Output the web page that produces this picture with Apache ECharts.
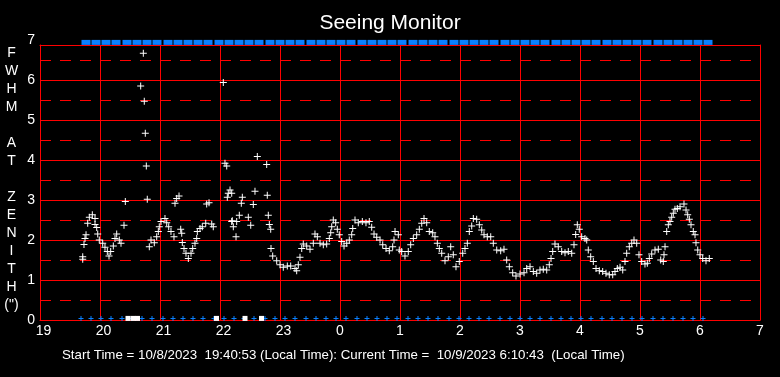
<!DOCTYPE html>
<html>
<head>
<meta charset="utf-8">
<script src="https://cdn.jsdelivr.net/npm/echarts@6.0.0/dist/echarts.min.js"></script>
<style>
  html, body { margin: 0; background: #000; }
  #chart { width: 780px; height: 377px; }
</style>
</head>
<body>
<div id="chart"></div>
<script>
// seeing samples: [hour since 19:00 of start day (24+ = next day), FWHM arcsec]
const seeing = [
  [19.712,1.58],[19.712,1.52],[19.733,1.89],[19.750,2.04],[19.767,2.13],[19.795,2.42],[19.822,2.57],[19.872,2.63],
  [19.917,2.54],[19.917,2.39],[19.945,2.31],[19.962,2.15],[19.988,2.00],[20.045,1.92],[20.083,1.82],[20.122,1.71],
  [20.150,1.60],[20.178,1.71],[20.222,1.85],[20.250,2.04],[20.278,2.15],[20.322,2.00],[20.350,1.92],[20.400,2.37],
  [20.422,2.96],[20.678,5.85],[20.722,6.67],[20.738,5.47],[20.755,4.67],[20.772,3.85],[20.788,3.02],
  [20.822,1.83],[20.850,2.00],[20.905,1.93],[20.945,2.08],[20.972,2.21],[20.988,2.33],[21.017,2.46],[21.083,2.54],
  [21.112,2.43],[21.145,2.33],[21.183,2.21],[21.233,2.08],[21.250,2.92],[21.278,3.04],[21.317,3.10],
  [21.345,2.27],[21.362,2.17],[21.372,1.94],[21.400,1.79],[21.433,1.67],[21.472,1.54],[21.517,1.67],[21.545,1.79],
  [21.583,1.92],[21.612,2.04],[21.622,2.21],[21.667,2.29],[21.705,2.33],[21.762,2.42],[21.778,2.90],[21.817,2.93],
  [21.862,2.40],[21.888,2.33],
  [22.055,5.94],[22.083,3.92],[22.112,3.85],[22.122,3.07],[22.138,3.17],[22.167,3.25],[22.195,3.17],[22.195,2.46],
  [22.205,2.48],[22.222,2.33],[22.267,2.08],[22.278,2.46],[22.322,2.62],[22.355,2.92],[22.372,3.07],[22.472,2.57],
  [22.512,2.37],[22.555,2.89],[22.583,3.22],[22.622,4.09],[22.778,3.89],[22.788,3.12],[22.805,2.62],[22.822,2.39],
  [22.845,2.27],[22.850,1.79],[22.878,1.60],[22.945,1.48],[23.000,1.38],[23.055,1.32],[23.122,1.35],[23.178,1.35],
  [23.250,1.29],[23.278,1.23],[23.305,1.38],[23.333,1.57],[23.362,1.79],[23.388,1.90],[23.445,1.85],[23.500,1.77],
  [23.555,1.92],[23.583,2.15],[23.622,2.08],[23.667,1.92],[23.722,1.88],[23.778,1.90],[23.822,2.04],[23.845,2.18],
  [23.862,2.33],[23.888,2.50],[23.928,2.43],[23.955,2.27],[23.988,2.13],
  [24.028,1.96],[24.067,1.85],[24.112,1.92],[24.155,2.00],[24.195,2.13],[24.212,2.29],[24.250,2.50],[24.305,2.43],
  [24.372,2.46],[24.433,2.43],[24.488,2.46],[24.528,2.32],[24.567,2.15],[24.612,2.07],[24.667,2.00],[24.712,1.88],
  [24.767,1.79],[24.822,1.73],[24.878,1.83],[24.900,2.00],[24.917,2.21],[24.972,2.13],[24.988,1.75],
  [25.028,1.71],[25.083,1.60],[25.138,1.71],[25.178,1.88],[25.222,2.04],[25.278,2.13],[25.322,2.27],[25.362,2.42],
  [25.400,2.54],[25.445,2.43],[25.488,2.21],[25.545,2.18],[25.583,2.08],[25.622,1.92],[25.655,1.79],[25.695,1.67],
  [25.750,1.48],[25.805,1.58],[25.845,1.83],[25.888,1.63],[25.933,1.33],[25.988,1.46],
  [26.045,1.67],[26.083,1.79],[26.122,1.92],[26.155,2.21],[26.195,2.35],[26.222,2.54],[26.278,2.52],[26.322,2.38],
  [26.362,2.25],[26.400,2.13],[26.455,2.08],[26.512,2.08],[26.555,1.92],[26.612,1.75],[26.678,1.73],[26.733,1.77],
  [26.778,1.50],[26.822,1.33],[26.878,1.18],[26.933,1.10],
  [27.000,1.15],[27.067,1.18],[27.112,1.29],[27.167,1.33],[27.222,1.21],[27.278,1.17],[27.333,1.25],[27.388,1.27],
  [27.445,1.25],[27.488,1.38],[27.517,1.54],[27.545,1.71],[27.583,1.90],[27.638,1.83],[27.695,1.71],[27.750,1.68],
  [27.805,1.71],[27.862,1.67],[27.900,1.88],[27.928,2.14],[27.955,2.38],[27.988,2.27],
  [28.028,2.08],[28.083,2.04],[28.112,2.00],[28.138,1.75],[28.178,1.58],[28.222,1.46],[28.267,1.29],[28.322,1.23],
  [28.378,1.21],[28.433,1.17],[28.488,1.13],[28.545,1.13],[28.583,1.21],[28.622,1.29],[28.667,1.32],[28.712,1.25],
  [28.750,1.46],[28.778,1.67],[28.822,1.83],[28.862,1.92],[28.900,2.00],[28.945,1.92],[28.983,1.63],
  [29.028,1.46],[29.083,1.40],[29.122,1.42],[29.155,1.54],[29.195,1.65],[29.250,1.75],[29.305,1.77],[29.345,1.50],
  [29.388,1.46],[29.400,1.63],[29.417,1.83],[29.445,2.21],[29.472,2.38],[29.500,2.46],[29.528,2.57],[29.555,2.67],
  [29.583,2.77],[29.622,2.79],[29.667,2.83],[29.733,2.90],[29.767,2.75],[29.795,2.63],[29.822,2.52],[29.850,2.38],
  [29.888,2.21],[29.917,2.13],[29.933,1.93],[29.962,1.75],
  [30.000,1.63],[30.045,1.54],[30.100,1.48],[30.155,1.54]
];

// minutes after 19:00 where the monitor logged a frame (blue marks)
const frameMinutes = [
  41, 51, 61, 71, 82, 92, 102, 112, 123, 133, 143, 153, 163, 174, 184, 194, 204, 214, 225, 235,
  245, 255, 266, 276, 286, 296, 306, 317, 327, 337, 347, 357, 368, 378, 388, 398, 409, 419, 429, 439,
  449, 460, 470, 480, 490, 500, 511, 521, 531, 541, 551, 562, 572, 582, 592, 602, 613, 623, 633, 643,
  653, 663
];

// minutes after 19:00 flagged (white squares on the baseline)
const flagMinutes = [88, 93, 97.5, 176.5, 205, 221.5];

const yTicks = [0, 1, 2, 3, 4, 5, 6, 7];
const yTitle = ['F', 'W', 'H', 'M', '', 'A', 'T', '', 'Z', 'E', 'N', 'I', 'T', 'H', '(")'];
const footer = 'Start Time = 10/8/2023  19:40:53 (Local Time): Current Time =  10/9/2023 6:10:43  (Local Time)';

const RED = '#ff0000';
const BLUE = '#0a80ff';
const FONT = '"Liberation Sans", Arial, sans-serif';

const PLUS7 = 'path://M3,0h1v3h3v1h-3v3h-1v-3h-3v-1h3z';
const PLUS5 = 'path://M2,0h1v2h2v1h-2v2h-1v-2h-2v-1h2z';

const toHour = m => 19 + m / 60;

const chart = echarts.init(document.getElementById('chart'));

const option = {
  backgroundColor: '#000',
  animation: false,
  title: {
    text: 'Seeing Monitor',
    left: 'center',
    top: 8,
    textStyle: { color: '#fff', fontSize: 21, fontWeight: 'normal', fontFamily: FONT }
  },
  grid: [
    { left: 40, right: 20, top: 45, bottom: 57 },   // red frame + grid
    { left: 40, right: 20, top: 40, bottom: 57 }    // data, 0..7
  ],
  xAxis: [
    {
      gridIndex: 0, type: 'value', min: 19, max: 31, interval: 1,
      axisLine: { show: true, onZero: false, lineStyle: { color: RED, width: 1 } },
      axisTick: { show: false }, axisLabel: { show: false },
      splitLine: { show: true, lineStyle: { color: RED, width: 1 } }
    },
    {
      gridIndex: 0, type: 'value', position: 'top', min: 19, max: 31, interval: 1,
      axisLine: { show: true, onZero: false, lineStyle: { color: RED, width: 1 } },
      axisTick: { show: false }, axisLabel: { show: false }, splitLine: { show: false }
    },
    {
      gridIndex: 1, type: 'value', min: 19, max: 31, interval: 1,
      axisLine: { show: false }, axisTick: { show: false }, splitLine: { show: false },
      axisLabel: {
        color: '#fff', fontSize: 14, fontFamily: FONT, margin: 4,
        formatter: v => {
          const h = Math.round(v) % 24;
          return h >= 10 ? '{w|' + h + '}' : String(h);
        },
        rich: { w: { color: '#fff', fontSize: 14, fontFamily: FONT, padding: [0, 0, 0, 7] } }
      }
    }
  ],
  yAxis: [
    {
      gridIndex: 0, type: 'value', min: 0, max: 6.875, interval: 0.5,
      axisLine: { show: true, onZero: false, lineStyle: { color: RED, width: 1 } },
      axisTick: { show: false }, axisLabel: { show: false },
      splitLine: { show: true, lineStyle: { color: RED, width: 1, type: [11, 9] } }
    },
    {
      gridIndex: 0, type: 'value', position: 'right', min: 0, max: 6.875, interval: 1,
      axisLine: { show: true, onZero: false, lineStyle: { color: RED, width: 1 } },
      axisTick: { show: false }, axisLabel: { show: false },
      splitLine: { show: true, lineStyle: { color: RED, width: 1 } }
    },
    {
      gridIndex: 1, type: 'value', min: yTicks[0], max: yTicks[yTicks.length - 1], interval: 1,
      axisLine: { show: false }, axisTick: { show: false }, splitLine: { show: false },
      axisLabel: { color: '#fff', fontSize: 14, fontFamily: FONT, margin: 5 }
    }
  ],
  graphic: [
    {
      type: 'text', x: 11.5, y: 44, silent: true,
      style: {
        text: yTitle.join('\n'), fill: '#fff', font: '14px ' + FONT,
        lineHeight: 18, textAlign: 'center', textVerticalAlign: 'top'
      }
    },
    {
      type: 'text', x: 62, y: 355, silent: true,
      style: { text: footer, fill: '#fff', font: '13.3px ' + FONT, textAlign: 'left', textVerticalAlign: 'middle' }
    }
  ],
  series: [
    {
      name: 'frames', type: 'scatter', xAxisIndex: 2, yAxisIndex: 2, silent: true,
      symbol: PLUS5, symbolSize: 5, itemStyle: { color: BLUE, opacity: 1 },
      data: frameMinutes.map(m => [toHour(m), 0.04])
    },
    {
      name: 'frames-top', type: 'scatter', xAxisIndex: 2, yAxisIndex: 2, silent: true,
      symbol: 'rect', symbolSize: [9, 5], symbolOffset: [5, 0], itemStyle: { color: BLUE, opacity: 1 },
      data: frameMinutes.map(m => [toHour(m), 6.94])
    },
    {
      name: 'flags', type: 'scatter', xAxisIndex: 2, yAxisIndex: 2, silent: true,
      symbol: 'rect', symbolSize: 5, itemStyle: { color: '#fff', opacity: 1 },
      data: flagMinutes.map(m => [toHour(m), 0.04])
    },
    {
      name: 'FWHM', type: 'scatter', xAxisIndex: 2, yAxisIndex: 2, silent: true,
      symbol: PLUS7, symbolSize: 7, itemStyle: { color: '#fff', opacity: 1 },
      data: seeing
    }
  ]
};

chart.setOption(option);
</script>
</body>
</html>
